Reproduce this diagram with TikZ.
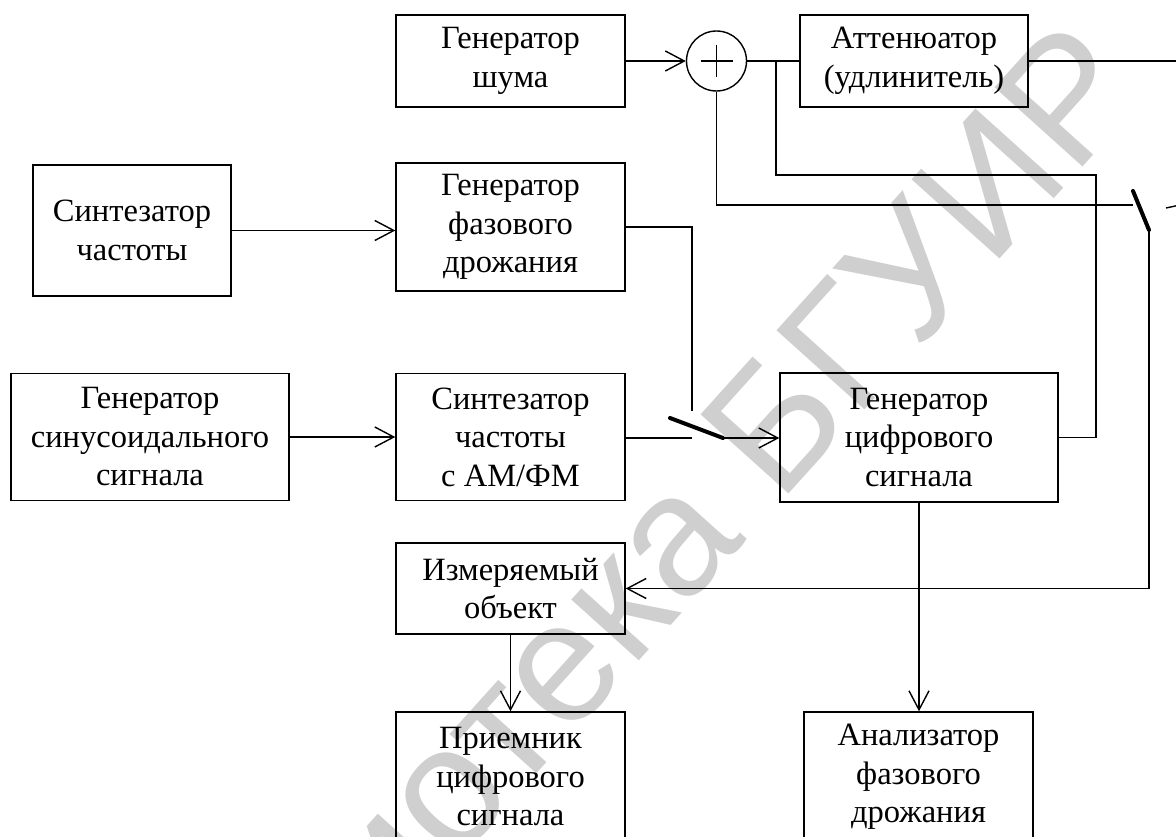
\documentclass[tikz,border=0pt]{standalone}
\usepackage{fontspec}
\setmainfont{Liberation Serif}
\newfontfamily\wmfont{Liberation Sans}
\usetikzlibrary{arrows.meta,calc}
\begin{document}
\begin{tikzpicture}[x=1pt,y=-1pt,
  blk/.style={draw, line width=1.4pt, align=center, inner sep=0pt,
    font=\fontsize{32.5}{38.5}\selectfont},
  wire/.style={line width=1.4pt},
  arr/.style={wire, -{Straight Barb[length=19pt,width=20pt]}},
  blade/.style={line width=4pt, line cap=round},
  summer/.style={draw, circle, line width=1.4pt, minimum size=60pt, inner sep=0pt},
]
\useasboundingbox (0,0) rectangle (1176,837);

% library watermark
\node[rotate=48, text=black!19, inner sep=0pt,
  font=\wmfont\fontsize{172}{172}\selectfont] (wm) at (590,622) {Библиотека БГУИР};

% blocks
\node[blk, minimum width=229pt, minimum height=92pt]  (noise)  at (510.5,61)   {Генератор\\шума};
\node[blk, minimum width=228pt, minimum height=92pt]  (atten)  at (914,61)     {Аттенюатор\\(удлинитель)};
\node[blk, minimum width=198pt, minimum height=131pt] (synth)  at (132,230.5)  {Синтезатор\\частоты};
\node[blk, minimum width=229pt, minimum height=128pt] (jitter) at (510.5,227)  {Генератор\\фазового\\дрожания};
\node[blk, minimum width=278pt, minimum height=127pt] (sine)   at (150,437)    {Генератор\\синусоидального\\сигнала};
\node[blk, minimum width=229pt, minimum height=127pt] (amfm)   at (510.5,437)  {Синтезатор\\частоты\\с АМ/ФМ};
\node[blk, minimum width=278pt, minimum height=129pt] (dig)    at (919,437.5)  {Генератор\\цифрового\\сигнала};
\node[blk, minimum width=229pt, minimum height=91pt]  (dut)    at (510.5,588.5){Измеряемый\\объект};
\node[blk, minimum width=229pt, minimum height=130pt] (rx)     at (510.5,777)  {Приемник\\цифрового\\сигнала};
\node[blk, minimum width=229pt, minimum height=130pt] (an)     at (918.5,777)  {Анализатор\\фазового\\дрожания};

% summing junction
\node[summer] (sum) at (716.5,61) {};
\draw[wire] ($(sum.center)+(-16,0)$) -- ($(sum.center)+(16,0)$);
\draw[wire] ($(sum.center)+(0,-16)$) -- ($(sum.center)+(0,16)$);

% junction points and switch contacts
\coordinate (j1)   at (776,61);
\coordinate (edge) at (1180,61);
\coordinate (s1a)  at (692,411);
\coordinate (s1b)  at (692,438);
\coordinate (s1u)  at (670,418);
\coordinate (s1p)  at (723,438);
\coordinate (s2a)  at (1133,205);
\coordinate (s2u)  at (1133,191);
\coordinate (s2p)  at (1149,230);
\coordinate (s2c)  at (1166,208);
\coordinate (s2e)  at (1180,205);

% upper chain
\draw[arr] (noise.east) -- (sum.west);
\draw[wire] (sum.east) -- (atten.west);
\draw[wire] (atten.east) -- (edge);
\draw[wire] (dig.east) -| (1096,175) -| (j1);
\draw[wire] (sum.south) |- (s2a);
\draw[blade] (s2u) -- (s2p);
\draw[wire] (s2c) -- (s2e);
\draw[arr] (s2p) |- (dut.east);

% left chain
\draw[arr] (synth.east) -- (synth.east -| jitter.west);
\draw[wire] (jitter.east) -| (s1a);
\draw[arr] (sine.east) -- (amfm.west);
\draw[wire] (amfm.east |- s1b) -- (s1b);
\draw[blade] (s1u) -- (s1p);
\draw[arr] (s1p) -- (s1p -| dig.west);

% outputs
\draw[arr] (dig.south) -- (dig.south |- an.north);
\draw[arr] (dut.south) -- (rx.north);
\end{tikzpicture}
\end{document}
